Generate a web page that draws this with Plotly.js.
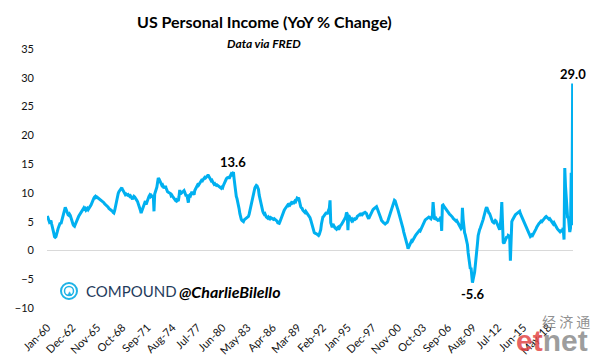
<!DOCTYPE html>
<html>
<head>
<meta charset="utf-8">
<script src="https://cdn.plot.ly/plotly-3.0.1.min.js"></script>
<style>html,body{margin:0;padding:0;background:#fff;}#chart{width:592px;height:358px;}</style>
</head>
<body>
<div id="chart"></div>
<script>
// US Personal Income, YoY % change, monthly Jan-1960 .. Mar-2021
var yoy1960s = [
  6.0, 5.7, 5.2, 4.9, 5.0, 5.2, 4.6, 4.2, 3.6, 3.0, 2.4, 2.3,
  2.4, 2.7, 3.3, 3.8, 4.1, 4.5, 4.8, 4.6, 5.1, 5.8, 6.4, 6.9,
  7.3, 7.5, 7.2, 6.8, 6.3, 6.2, 6.1, 6.3, 6.1, 5.6, 5.2, 4.9,
  4.5, 4.3, 4.2, 4.5, 4.9, 5.2, 5.5, 5.7, 6.0, 6.2, 6.5, 6.7,
  6.9, 7.1, 7.3, 7.4, 7.2, 7.3, 7.0, 7.1, 7.3, 7.1, 7.4, 7.6,
  7.7, 7.9, 8.3, 8.4, 8.8, 9.1, 9.3, 9.4, 9.2, 9.3, 9.2, 9.1,
  9.1, 9.0, 8.9, 8.8, 8.7, 8.5, 8.4, 8.3, 8.1, 8.0, 7.8, 7.7,
  7.6, 7.5, 7.3, 7.2, 7.2, 7.1, 7.0, 6.8, 6.6, 6.5, 6.9, 7.6,
  8.3, 9.0, 9.5, 9.9, 10.2, 10.4, 10.5, 10.7, 10.9, 10.6, 10.3, 10.0,
  9.8, 9.7, 9.8, 9.7, 9.6, 9.7, 9.5, 9.4, 9.5, 9.3, 9.1, 8.9
];
var yoy1970s = [
  9.2, 9.4, 9.3, 9.0, 8.8, 8.7, 8.5, 8.2, 7.9, 7.6, 7.0, 6.5,
  6.9, 7.2, 7.4, 7.8, 8.1, 8.6, 8.0, 8.4, 8.9, 9.2, 9.4, 9.6,
  9.4, 9.6, 9.5, 9.3, 9.6, 6.8, 9.8, 10.2, 10.4, 11.0, 11.8, 12.6,
  12.4, 12.2, 12.0, 11.6, 11.3, 11.4, 11.1, 10.8, 11.0, 11.2, 10.8, 10.4,
  10.2, 10.1, 10.0, 10.0, 9.9, 9.5, 9.6, 9.4, 9.2, 9.0, 8.9, 8.7,
  8.8, 8.6, 8.7, 8.6, 9.4, 10.5, 9.8, 9.9, 10.1, 10.2, 10.3, 10.4,
  10.1, 9.6, 9.4, 9.7, 9.2, 8.3, 9.4, 9.6, 9.5, 9.9, 10.2, 10.0,
  9.8, 9.7, 10.4, 10.7, 10.9, 11.1, 11.4, 11.3, 11.6, 11.7, 11.9, 12.1,
  11.9, 12.2, 12.4, 12.5, 12.7, 12.6, 12.8, 12.9, 13.0, 13.0, 12.8, 12.5,
  12.3, 12.1, 12.2, 11.8, 11.7, 11.5, 11.6, 11.4, 11.3, 11.4, 11.3, 11.3
];
var yoy1980s = [
  11.2, 11.1, 11.0, 10.8, 11.0, 10.9, 11.3, 11.6, 12.1, 12.2, 12.4, 12.6,
  12.7, 12.7, 12.5, 12.8, 12.9, 13.3, 13.2, 13.4, 13.6, 12.4, 11.1, 10.2,
  9.4, 9.0, 8.5, 8.0, 7.2, 6.4, 5.6, 5.4, 5.2, 5.0, 5.0, 5.3,
  5.4, 5.5, 5.6, 5.7, 5.8, 5.9, 6.3, 6.9, 7.6, 8.3, 8.8, 9.5,
  10.2, 10.8, 10.9, 11.1, 11.3, 11.2, 11.0, 10.6, 9.6, 8.9, 8.2, 7.6,
  7.2, 6.8, 6.5, 6.3, 6.4, 5.9, 5.8, 5.7, 5.6, 5.8, 5.6, 5.5,
  5.7, 5.6, 5.5, 5.4, 5.4, 5.5, 5.4, 5.3, 5.3, 5.1, 4.8, 4.7,
  4.7, 5.0, 5.4, 5.8, 6.0, 6.3, 6.7, 7.0, 7.2, 7.4, 7.5, 7.8,
  7.9, 7.8, 8.0, 7.9, 8.2, 8.3, 8.2, 8.3, 8.1, 8.4, 8.6, 8.5,
  8.9, 9.1, 9.0, 9.2, 8.7, 8.0, 7.6, 7.4, 7.3, 7.0, 6.8, 6.6
];
var yoy1990s = [
  6.6, 6.8, 6.6, 6.5, 6.3, 6.2, 6.0, 5.7, 5.3, 4.8, 4.2, 3.7,
  3.4, 3.1, 3.0, 3.0, 2.9, 2.8, 2.7, 2.6, 2.8, 3.1, 3.6, 4.6,
  5.4, 5.8, 5.9, 6.1, 6.3, 6.4, 6.6, 6.3, 6.9, 7.0, 7.3, 8.7,
  4.8, 4.3, 4.0, 4.6, 4.3, 4.1, 3.9, 3.8, 3.7, 3.9, 4.0, 3.6,
  4.0, 4.2, 4.4, 4.5, 4.7, 4.8, 5.0, 5.3, 5.6, 5.9, 6.6, 6.4,
  3.5, 6.1, 5.9, 5.6, 5.3, 5.2, 5.4, 5.2, 5.4, 5.5, 5.4, 5.5,
  5.6, 5.9, 6.0, 6.1, 6.2, 6.3, 6.2, 6.3, 6.2, 6.4, 6.5, 6.5,
  6.6, 6.5, 6.4, 6.0, 5.7, 5.5, 5.8, 6.1, 6.4, 6.7, 6.9, 7.1,
  7.2, 7.3, 7.5, 7.6, 7.6, 7.3, 7.0, 6.8, 6.5, 6.0, 5.6, 5.2,
  5.0, 4.9, 4.8, 4.7, 4.6, 4.7, 4.8, 4.9, 5.2, 5.6, 6.0, 6.3
];
var yoy2000s = [
  6.7, 7.2, 7.7, 8.1, 8.4, 8.7, 8.6, 8.3, 7.9, 7.4, 7.0, 6.6,
  6.0, 5.6, 5.2, 4.8, 4.3, 3.8, 3.2, 2.8, 2.3, 1.9, 1.4, 0.9,
  0.3, 0.6, 0.9, 1.2, 1.5, 1.7, 1.6, 1.9, 2.1, 2.3, 2.5, 2.7,
  2.9, 3.0, 3.1, 3.3, 3.5, 3.4, 3.7, 3.9, 4.1, 4.3, 4.6, 4.9,
  5.3, 5.4, 5.5, 5.6, 5.7, 5.8, 5.7, 5.6, 5.5, 5.8, 6.0, 8.4,
  5.5, 5.4, 5.5, 5.6, 5.4, 5.3, 5.5, 5.1, 5.4, 5.6, 5.5, 3.4,
  7.8, 7.9, 7.7, 7.5, 7.3, 7.2, 7.0, 6.8, 6.6, 6.4, 6.3, 6.2,
  6.1, 6.0, 5.8, 5.6, 5.5, 5.3, 5.2, 5.1, 5.2, 5.0, 4.8, 4.5,
  4.2, 4.0, 3.8, 4.0, 7.4, 5.4, 3.6, 3.1, 2.7, 2.2, 1.6, 1.0,
  -0.4, -1.3, -2.4, -3.2, -3.0, -5.0, -5.6, -5.0, -4.6, -3.8, -2.6, -1.6
];
var yoy2010s = [
  0.0, 1.2, 2.6, 3.3, 3.6, 3.9, 4.2, 4.8, 5.0, 5.4, 5.9, 6.6,
  7.0, 7.3, 7.5, 7.1, 6.6, 6.5, 6.4, 6.0, 5.7, 5.4, 5.0, 4.9,
  4.8, 5.0, 5.2, 5.1, 4.8, 4.5, 4.2, 3.7, 3.6, 4.6, 5.8, 8.4,
  1.9, 1.4, 1.2, 1.6, 1.8, 2.1, 2.4, 2.2, 2.6, 2.5, 2.3, -1.8,
  4.7, 5.0, 5.3, 5.6, 5.9, 6.0, 6.2, 6.3, 6.4, 6.5, 6.6, 6.7,
  6.8, 6.4, 6.1, 5.8, 5.5, 5.2, 5.0, 4.8, 4.4, 4.0, 3.7, 3.5,
  3.3, 2.8, 2.6, 2.4, 2.5, 2.7, 2.6, 2.8, 3.0, 3.3, 3.5, 3.8,
  4.1, 4.4, 4.6, 4.7, 4.8, 5.0, 5.1, 5.0, 5.2, 5.3, 5.6, 5.7,
  5.8, 5.9, 5.8, 5.6, 5.5, 5.4, 5.5, 5.3, 5.2, 5.0, 4.9, 4.6,
  4.8, 4.5, 4.3, 4.2, 3.9, 3.7, 3.5, 3.4, 3.3, 3.6, 3.4, 3.2
];
var yoy2020s = [
  3.6, 3.5, 1.9, 14.3, 11.2, 9.3, 8.2, 5.6, 5.9, 4.1, 3.2, 3.9,
  13.5, 4.4, 29.0
];

// x-axis labels (every 35th month, starting Jan-60)
var tickLabels = ["Jan-60","Dec-62","Nov-65","Oct-68","Sep-71","Aug-74","Jul-77","Jun-80",
  "May-83","Apr-86","Mar-89","Feb-92","Jan-95","Dec-97","Nov-00","Oct-03","Sep-06",
  "Aug-09","Jul-12","Jun-15","May-18"];
var tickStep = 35;

// labelled points: [month index, value]
var callouts = [[260, 13.6], [594, -5.6], [734, 29.0]];

var values = [].concat(yoy1960s, yoy1970s, yoy1980s, yoy1990s, yoy2000s, yoy2010s, yoy2020s);
var idx = values.map(function(_, i){ return i; });
var tickVals = tickLabels.map(function(_, i){ return i * tickStep; });

var FONT = 'Lato, "Open Sans", "Liberation Sans", sans-serif';
var L = 47, R = 19, T = 49, B = 50, W = 592 - L - R, H = 358 - T - B;
function px(x){ return (x - L) / W; }
function py(y){ return (358 - B - y) / H; }

var annotations = callouts.map(function(c){
  return {x: c[0], y: c[1], xref: 'x', yref: 'y', text: '<b>' + c[1].toFixed(1) + '</b>',
    showarrow: false, font: {family: FONT, size: 13, color: '#000'},
    yshift: c[1] < 0 ? -11 : 10};
});
annotations.push(
  {x: px(264), y: py(22), xref: 'paper', yref: 'paper', xanchor: 'center', yanchor: 'middle',
   text: '<b>US Personal Income (YoY % Change)</b>', showarrow: false,
   font: {family: FONT, size: 16, color: '#000'}},
  {x: px(264), y: py(43), xref: 'paper', yref: 'paper', xanchor: 'center', yanchor: 'middle',
   text: '<b><i>Data via FRED</i></b>', showarrow: false,
   font: {family: FONT, size: 12, color: '#000'}},
  {x: px(84), y: py(291), xref: 'paper', yref: 'paper', xanchor: 'left', yanchor: 'middle',
   text: 'COMPOUND', showarrow: false, font: {family: FONT, size: 15, color: '#1f3b5c'}},
  {x: px(177), y: py(291), xref: 'paper', yref: 'paper', xanchor: 'left', yanchor: 'middle',
   text: '<b><i>@CharlieBilello</i></b>', showarrow: false, font: {family: FONT, size: 16, color: '#000'}},
  {x: px(69), y: py(292), xref: 'paper', yref: 'paper', xanchor: 'center', yanchor: 'middle',
   text: '▲', showarrow: false, font: {family: '"DejaVu Sans"', size: 6, color: '#1fb3e6'}},
  {x: px(566), y: py(321), xref: 'paper', yref: 'paper', xanchor: 'center', yanchor: 'middle',
   text: '经 济 通', showarrow: false, font: {family: '"Noto Sans CJK SC"', size: 14, color: 'rgba(130,130,130,0.9)'}},
  {x: px(552), y: py(340), xref: 'paper', yref: 'paper', xanchor: 'center', yanchor: 'middle',
   text: '<b><span style="color:rgba(226,70,70,0.85)">et</span><span style="color:rgba(140,140,140,0.85)">net</span></b>',
   showarrow: false, font: {family: '"Liberation Sans", Arial, sans-serif', size: 30, color: '#999'}}
);

var shapes = [
  {type: 'circle', xref: 'paper', yref: 'paper', x0: px(61), x1: px(77), y0: py(299), y1: py(283),
   line: {color: '#1fb3e6', width: 2}},
  {type: 'circle', xref: 'paper', yref: 'paper', x0: px(64.5), x1: px(73.5), y0: py(295.5), y1: py(286.5),
   line: {color: '#1fb3e6', width: 1.5}}
];

var trace = {
  x: idx, y: values, type: 'scatter', mode: 'lines',
  line: {color: '#00b0f0', width: 3}, hoverinfo: 'skip'
};

var layout = {
  width: 592, height: 358,
  margin: {l: L, r: R, t: T, b: B},
  paper_bgcolor: '#fff', plot_bgcolor: '#fff',
  showlegend: false,
  font: {family: FONT, size: 11, color: '#000'},
  xaxis: {
    range: [-0.5, 734.5], tickmode: 'array', tickvals: tickVals, ticktext: tickLabels,
    tickangle: -45, showgrid: false, zeroline: false, showline: false, ticks: '',
    ticklabelstandoff: 10, tickfont: {family: FONT, size: 11, color: '#111'}, fixedrange: true
  },
  yaxis: {
    range: [-10, 35], dtick: 5, tick0: 0, showgrid: false, zeroline: true,
    zerolinecolor: '#d9d9d9', zerolinewidth: 1.5, showline: false, ticks: '',
    ticklabelstandoff: 12, tickfont: {family: FONT, size: 11, color: '#111'}, fixedrange: true
  },
  annotations: annotations,
  shapes: shapes
};

Plotly.newPlot('chart', [trace], layout, {staticPlot: true, displayModeBar: false});
</script>
</body>
</html>
